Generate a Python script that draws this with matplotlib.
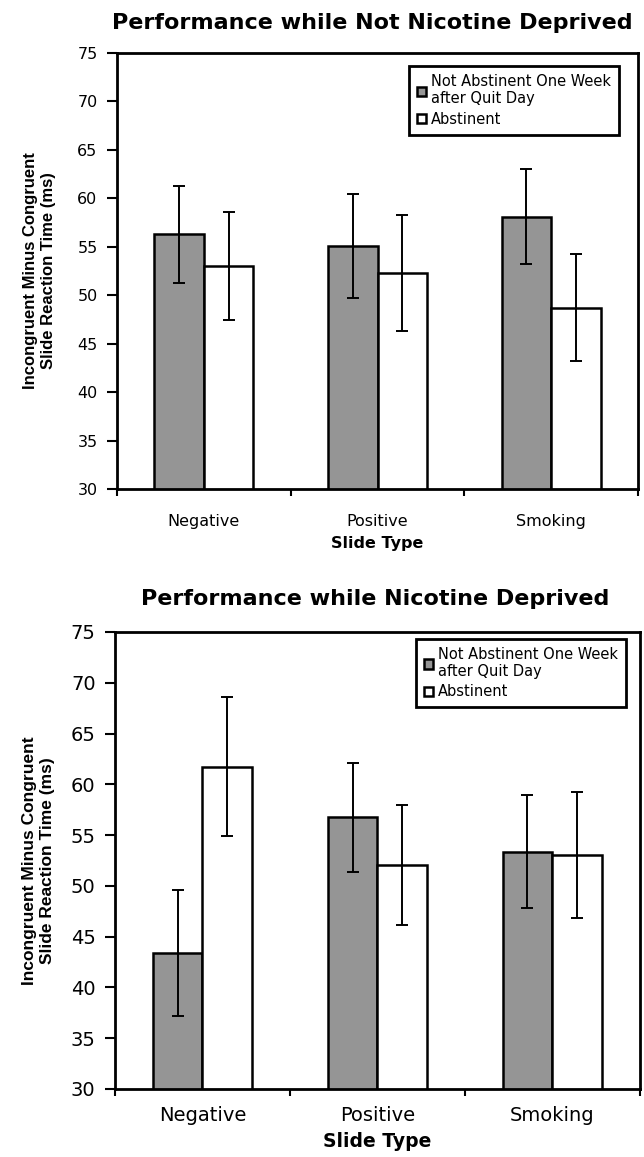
import numpy as np
import matplotlib.pyplot as plt

plt.rcParams['font.family'] = ['DejaVu Sans']

categories = ["Negative", "Positive", "Smoking"]
series = ["Not Abstinent One Week\nafter Quit Day", "Abstinent"]

# top panel: not nicotine deprived
top_not_abst = [56.3, 55.05, 58.1]
top_not_abst_err = [5.0, 5.35, 4.9]
top_abst = [53.0, 52.3, 48.7]
top_abst_err = [5.6, 6.0, 5.5]

# bottom panel: nicotine deprived
bot_not_abst = [43.4, 56.75, 53.35]
bot_not_abst_err = [6.2, 5.35, 5.55]
bot_abst = [61.75, 52.05, 53.0]
bot_abst_err = [6.85, 5.95, 6.2]

titles = ["Performance while Not Nicotine Deprived", "Performance while Nicotine Deprived"]
ylabel = "Incongruent Minus Congruent\nSlide Reaction Time (ms)"
xlabel = "Slide Type"

fig = plt.figure(figsize=(6.44, 11.57), dpi=100)
ax1 = fig.add_axes([0.1817, 0.5774, 0.809, 0.3768])
ax2 = fig.add_axes([0.1786, 0.0588, 0.815, 0.395])

x = np.arange(len(categories))
w = 0.285


def draw(ax, a, ae, b, be, fs_ytick, fs_xtick, fs_xlab, fs_ylab, xpad, ypad, leg_anchor, leg_fs):
    ekw = dict(ecolor='black', elinewidth=1.4, capsize=4.5, capthick=1.4)
    ax.bar(x - w / 2, a, w, bottom=0, color='#959595', edgecolor='black', linewidth=1.8,
           yerr=ae, error_kw=ekw, label=series[0])
    ax.bar(x + w / 2, b, w, bottom=0, color='white', edgecolor='black', linewidth=1.8,
           yerr=be, error_kw=ekw, label=series[1])
    ax.set_ylim(30, 75)
    ax.set_xlim(-0.5, 2.5)
    ax.set_yticks(np.arange(30, 76, 5))
    ax.set_xticks([-0.5, 0.5, 1.5, 2.5])
    ax.set_xticklabels([])
    ax.set_xticks(x, minor=True)
    ax.set_xticklabels(categories, minor=True)
    ax.tick_params(axis='x', which='minor', length=0, pad=xpad, labelsize=fs_xtick)
    ax.tick_params(axis='x', which='major', length=5, width=1.5, direction='out')
    ax.tick_params(axis='y', length=7, width=1.5, direction='out', pad=7, labelsize=fs_ytick)
    for s in ax.spines.values():
        s.set_linewidth(2)
    ax.set_xlabel(xlabel, fontsize=fs_xlab, fontweight='bold', labelpad=5)
    ax.set_ylabel(ylabel, fontsize=fs_ylab, family='Liberation Sans', fontweight='bold',
                  labelpad=ypad, linespacing=1.3)
    leg = ax.legend(loc='upper right', bbox_to_anchor=leg_anchor, fontsize=leg_fs,
                    handlelength=0.6, handleheight=0.6, handletextpad=0.35,
                    fancybox=False, framealpha=1, edgecolor='black', borderpad=0.55,
                    labelspacing=0.35, borderaxespad=0)
    leg.get_frame().set_linewidth(2)


draw(ax1, top_not_abst, top_not_abst_err, top_abst, top_abst_err,
     11.5, 11.5, 11.5, 12, 18, 15, (0.9635, 0.970), 10.5)
draw(ax2, bot_not_abst, bot_not_abst_err, bot_abst, bot_abst_err,
     14, 14, 13.5, 12.5, 12, 11, (0.973, 0.985), 10.5)

fig.text(372 / 644, 1 - 23 / 1157, titles[0], fontsize=16, fontweight='bold',
         ha='center', va='center')
fig.text(375 / 644, 1 - 599 / 1157, titles[1], fontsize=16, fontweight='bold',
         ha='center', va='center')

fig.savefig("out.png", dpi=100)
